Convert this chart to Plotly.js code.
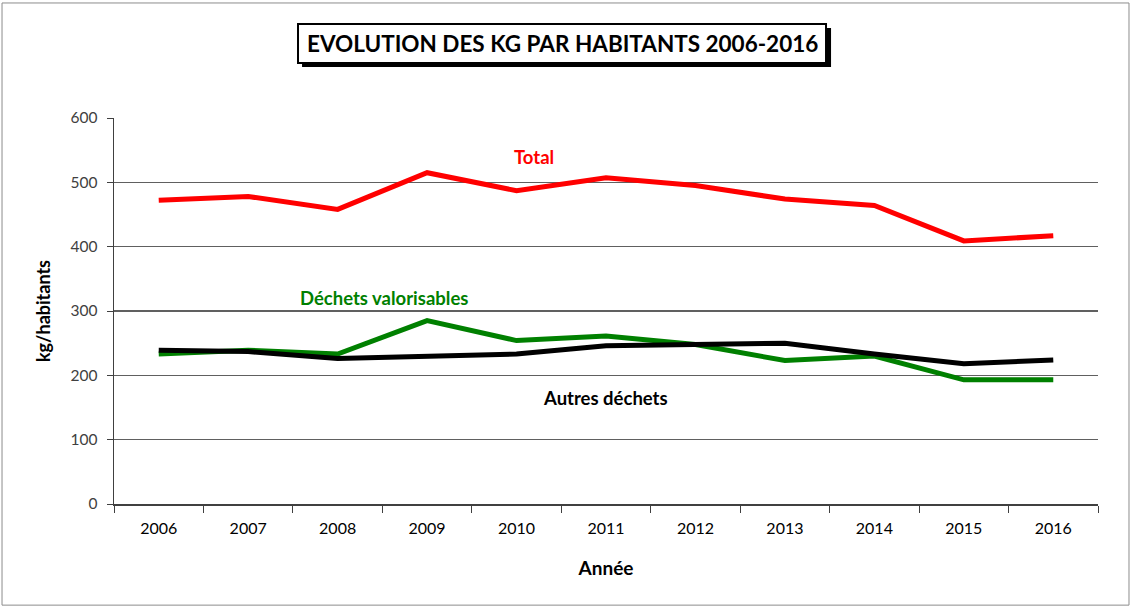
<!DOCTYPE html>
<html>
<head>
<meta charset="utf-8">
<script src="https://cdn.plot.ly/plotly-3.0.1.min.js"></script>
<style>html,body{margin:0;padding:0;background:#fff;}#chart{width:1132px;height:608px;}</style>
</head>
<body>
<div id="chart"></div>
<script>
const years = ["2006","2007","2008","2009","2010","2011","2012","2013","2014","2015","2016"];
const total = [472, 478, 458, 515, 487, 507, 495, 474, 464, 409, 417];
const valorisables = [233, 239, 233, 285, 254, 261, 248, 223, 230, 193, 193];
const autres = [239, 237, 226, 230, 233, 246, 248, 250, 233, 218, 224];
const yTicks = [0, 100, 200, 300, 400, 500, 600];

const FONT = "Lato, 'Open Sans', sans-serif";

const traces = [
  {x: years, y: total, type: "scatter", mode: "lines", name: "Total",
   line: {color: "#ff0000", width: 5}},
  {x: years, y: valorisables, type: "scatter", mode: "lines", name: "Déchets valorisables",
   line: {color: "#008000", width: 5}},
  {x: years, y: autres, type: "scatter", mode: "lines", name: "Autres déchets",
   line: {color: "#000000", width: 5}}
];

const layout = {
  width: 1132, height: 608,
  margin: {l: 114, r: 34, t: 118, b: 104},
  paper_bgcolor: "#ffffff", plot_bgcolor: "#ffffff",
  showlegend: false,
  font: {family: FONT, color: "#000"},
  xaxis: {
    type: "category", tickson: "boundaries", ticks: "outside", ticklen: 7,
    tickcolor: "#404040", showline: true, linecolor: "#404040", linewidth: 1.5,
    showgrid: false, tickfont: {size: 16, color: "#000", family: FONT},
    ticklabelstandoff: 9,
    title: {text: "<b>Année</b>", font: {size: 19, family: FONT, color: "#000"}, standoff: 26},
    range: [-0.5, 10.5], fixedrange: true
  },
  yaxis: {
    range: [0, 600], tickvals: yTicks, ticks: "outside", ticklen: 6,
    tickcolor: "#404040", showline: true, linecolor: "#404040", linewidth: 1.5,
    showgrid: true, gridcolor: "#606060", gridwidth: 1.2, zeroline: false,
    tickfont: {size: 15.5, color: "#404040", family: FONT},
    ticklabelstandoff: 6,
    title: {text: "<b>kg/habitants</b>", font: {size: 18, family: FONT, color: "#000"}, standoff: 15}
  },
  shapes: [
    {type: "rect", xref: "paper", yref: "paper", x0: -0.1138, x1: 1.0315, y0: -0.262, y1: 1.298,
     line: {color: "#8c8c8c", width: 1}, fillcolor: "rgba(0,0,0,0)", layer: "below"},
    {type: "rect", xref: "paper", yref: "paper", x0: 0.1911, x1: 0.7287, y0: 1.1321, y1: 1.2332,
     line: {color: "#000", width: 0}, fillcolor: "#000"},
    {type: "rect", xref: "paper", yref: "paper", x0: 0.187, x1: 0.7236, y0: 1.1425, y1: 1.2435,
     line: {color: "#000", width: 2}, fillcolor: "#fff"}
  ],
  annotations: [
    {xref: "paper", yref: "paper", x: 0.4553, y: 1.193, text: "<b>EVOLUTION DES KG PAR HABITANTS 2006-2016</b>",
     showarrow: false, font: {size: 22.5, family: FONT, color: "#000"}, xanchor: "center", yanchor: "middle"},
    {xref: "x", yref: "y", x: years.indexOf("2010"), y: 540, text: "<b>Total</b>", showarrow: false,
     font: {size: 18.5, color: "#ff0000", family: FONT}, xanchor: "center", xshift: 17},
    {xref: "x", yref: "y", x: years.indexOf("2008"), y: 320, text: "<b>Déchets valorisables</b>", showarrow: false,
     font: {size: 18.5, color: "#008000", family: FONT}, xanchor: "center", xshift: 46},
    {xref: "x", yref: "y", x: years.indexOf("2011"), y: 164, text: "<b>Autres déchets</b>", showarrow: false,
     font: {size: 18.5, color: "#000", family: FONT}, xanchor: "center", xshift: -1}
  ]
};

Plotly.newPlot("chart", traces, layout, {displayModeBar: false, staticPlot: true});
</script>
</body>
</html>
